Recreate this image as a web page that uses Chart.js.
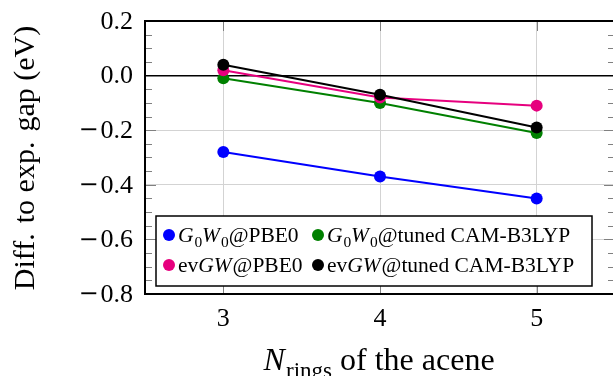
<!DOCTYPE html>
<html>
<head>
<meta charset="utf-8">
<script src="https://cdn.jsdelivr.net/npm/chart.js@4.4.0/dist/chart.umd.min.js"></script>
<style>
  html, body { margin: 0; padding: 0; background: #fff; overflow: hidden; }
  canvas { display: block; }
</style>
</head>
<body>
<canvas id="gapChart" width="618" height="376"></canvas>
<script>
// number of rings vs. deviation from the experimental gap (eV)
const rings = [3, 4, 5];
const g0w0Pbe0 = [-0.28, -0.37, -0.45];
const g0w0Cam = [-0.01, -0.10, -0.21];
const evgwPbe0 = [0.02, -0.08, -0.11];
const evgwCam = [0.04, -0.07, -0.19];

// *...* = italic, _{...} = subscript
const seriesNames = [
  '*G*_{0}*W*_{0}@PBE0',
  '*G*_{0}*W*_{0}@tuned CAM-B3LYP',
  'ev*GW*@PBE0',
  'ev*GW*@tuned CAM-B3LYP'
];
const seriesColors = ['#0000ff', '#008000', '#e6007e', '#000000'];
const xTickValues = [3, 4, 5];
const yTickValues = [-0.8, -0.6, -0.4, -0.2, 0, 0.2];
const xTitle = '*N*_{rings} of the acene';
const yTitle = 'Diff.\u200A to exp.\u200A gap (eV)';

const FONT = '"Liberation Serif", "Times New Roman", serif';

function parseRich(str) {
  const runs = [];
  const re = /\*([^*]+)\*|_\{([^}]+)\}|([^*_]+)/g;
  let m;
  while ((m = re.exec(str)) !== null) {
    if (m[1]) runs.push({ t: m[1], italic: true });
    else if (m[2]) runs.push({ t: m[2], sub: true });
    else runs.push({ t: m[3] });
  }
  return runs;
}

function richFont(run, size) {
  const s = run.sub ? size * 0.72 : size;
  return (run.italic ? 'italic ' : '') + s + 'px ' + FONT;
}

function richWidth(ctx, runs, size) {
  let w = 0;
  runs.forEach(r => {
    ctx.font = richFont(r, size);
    w += ctx.measureText(r.t).width + (r.italic ? size * 0.04 : 0);
  });
  return w;
}

function drawRich(ctx, runs, x, y, size) {
  ctx.textAlign = 'left';
  ctx.textBaseline = 'alphabetic';
  runs.forEach(r => {
    ctx.font = richFont(r, size);
    ctx.fillText(r.t, x, r.sub ? y + size * 0.24 : y);
    x += ctx.measureText(r.t).width + (r.italic ? size * 0.04 : 0);
  });
}

const makeSet = (i, values, order) => ({
  label: seriesNames[i].replace(/[*_{}]/g, ''),
  data: rings.map((r, k) => ({ x: r, y: values[k] })),
  borderColor: seriesColors[i],
  backgroundColor: seriesColors[i],
  pointBackgroundColor: seriesColors[i],
  borderWidth: 2,
  pointRadius: 6,
  pointHoverRadius: 6,
  pointBorderWidth: 0,
  order: order
});

const decorations = {
  id: 'decorations',
  afterDatasetsDraw(chart) {
    const { ctx, chartArea: a, scales: { x, y } } = chart;
    ctx.save();

    // inward tick marks
    ctx.strokeStyle = '#808080';
    ctx.lineWidth = 1;
    ctx.beginPath();
    for (let v = -0.8; v <= 0.2001; v += 0.05) {
      const py = Math.round(y.getPixelForValue(v)) + 0.5;
      const major = Math.abs(v / 0.2 - Math.round(v / 0.2)) < 1e-6;
      const len = major ? 11 : 7;
      ctx.moveTo(a.left, py); ctx.lineTo(a.left + len, py);
      ctx.moveTo(a.right, py); ctx.lineTo(a.right - len, py);
    }
    xTickValues.forEach(v => {
      const px = Math.round(x.getPixelForValue(v)) + 0.5;
      ctx.moveTo(px, a.top); ctx.lineTo(px, a.top + 10);
      ctx.moveTo(px, a.bottom); ctx.lineTo(px, a.bottom - 10);
    });
    ctx.stroke();

    // frame
    ctx.strokeStyle = '#000';
    ctx.lineWidth = 2;
    ctx.strokeRect(a.left, a.top, a.right - a.left, a.bottom - a.top);

    // y tick labels, with a wide math-style minus
    ctx.fillStyle = '#000';
    ctx.textBaseline = 'middle';
    ctx.textAlign = 'right';
    yTickValues.forEach(v => {
      const py = y.getPixelForValue(v) + 1;
      const num = Math.abs(v).toFixed(1);
      ctx.font = '26px ' + FONT;
      ctx.fillText(num, a.left - 12, py);
      if (v < -1e-9) {
        const w = ctx.measureText(num).width;
        ctx.font = '24px "DejaVu Serif"';
        ctx.fillText('\u2212', a.left - 12 - w - 2, py);
      }
    });

    // legend box, two columns
    const box = { l: 156, t: 216, r: 592, b: 286 };
    ctx.fillStyle = '#fff';
    ctx.fillRect(box.l, box.t, box.r - box.l, box.b - box.t);
    ctx.lineWidth = 1.5;
    ctx.strokeRect(box.l, box.t, box.r - box.l, box.b - box.t);
    const colX = [169, 318];
    const rowY = [235, 265];
    const size = 21.5;
    seriesNames.forEach((name, i) => {
      const cx = colX[i % 2];
      const cy = rowY[Math.floor(i / 2)];
      ctx.fillStyle = seriesColors[i];
      ctx.beginPath();
      ctx.arc(cx, cy, 6, 0, Math.PI * 2);
      ctx.fill();
      ctx.fillStyle = '#000';
      drawRich(ctx, parseRich(name), cx + 9, cy + 7, size);
    });

    // axis titles
    const xr = parseRich(xTitle);
    const xs = 32;
    const xw = richWidth(ctx, xr, xs);
    drawRich(ctx, xr, 379 - xw / 2, 370, xs);

    ctx.translate(34, 158);
    ctx.rotate(-Math.PI / 2);
    ctx.font = '30px ' + FONT;
    ctx.textAlign = 'center';
    ctx.textBaseline = 'alphabetic';
    ctx.fillText(yTitle, 0, 0);
    ctx.restore();
  }
};

new Chart(document.getElementById('gapChart'), {
  type: 'line',
  data: {
    datasets: [
      makeSet(0, g0w0Pbe0, 3),
      makeSet(1, g0w0Cam, 2),
      makeSet(2, evgwPbe0, 1),
      makeSet(3, evgwCam, 0)
    ]
  },
  options: {
    responsive: false,
    animation: false,
    devicePixelRatio: 1,
    layout: { autoPadding: false, padding: { top: 21, right: 3, left: 0, bottom: 0 } },
    plugins: { legend: { display: false }, tooltip: { enabled: false } },
    scales: {
      x: {
        type: 'linear',
        min: 2.5,
        max: 5.5,
        afterBuildTicks: s => { s.ticks = xTickValues.map(v => ({ value: v })); },
        afterFit: s => { s.height = 82; s.paddingLeft = 0; s.paddingRight = 0; },
        border: { display: false },
        grid: { color: '#d3d3d3', lineWidth: 1, drawTicks: false },
        ticks: {
          padding: 10,
          color: '#000',
          font: { family: FONT, size: 26 },
          callback: v => String(v)
        }
      },
      y: {
        min: -0.8,
        max: 0.2,
        afterBuildTicks: s => { s.ticks = yTickValues.map(v => ({ value: v })); },
        afterFit: s => { s.width = 145; s.paddingTop = 0; s.paddingBottom = 0; },
        border: { display: false },
        grid: {
          drawTicks: false,
          color: c => Math.abs(c.tick.value) < 1e-9 ? '#000' : '#d3d3d3',
          lineWidth: c => Math.abs(c.tick.value) < 1e-9 ? 1.5 : 1
        },
        ticks: { display: false }
      }
    }
  },
  plugins: [decorations]
});
</script>
</body>
</html>
